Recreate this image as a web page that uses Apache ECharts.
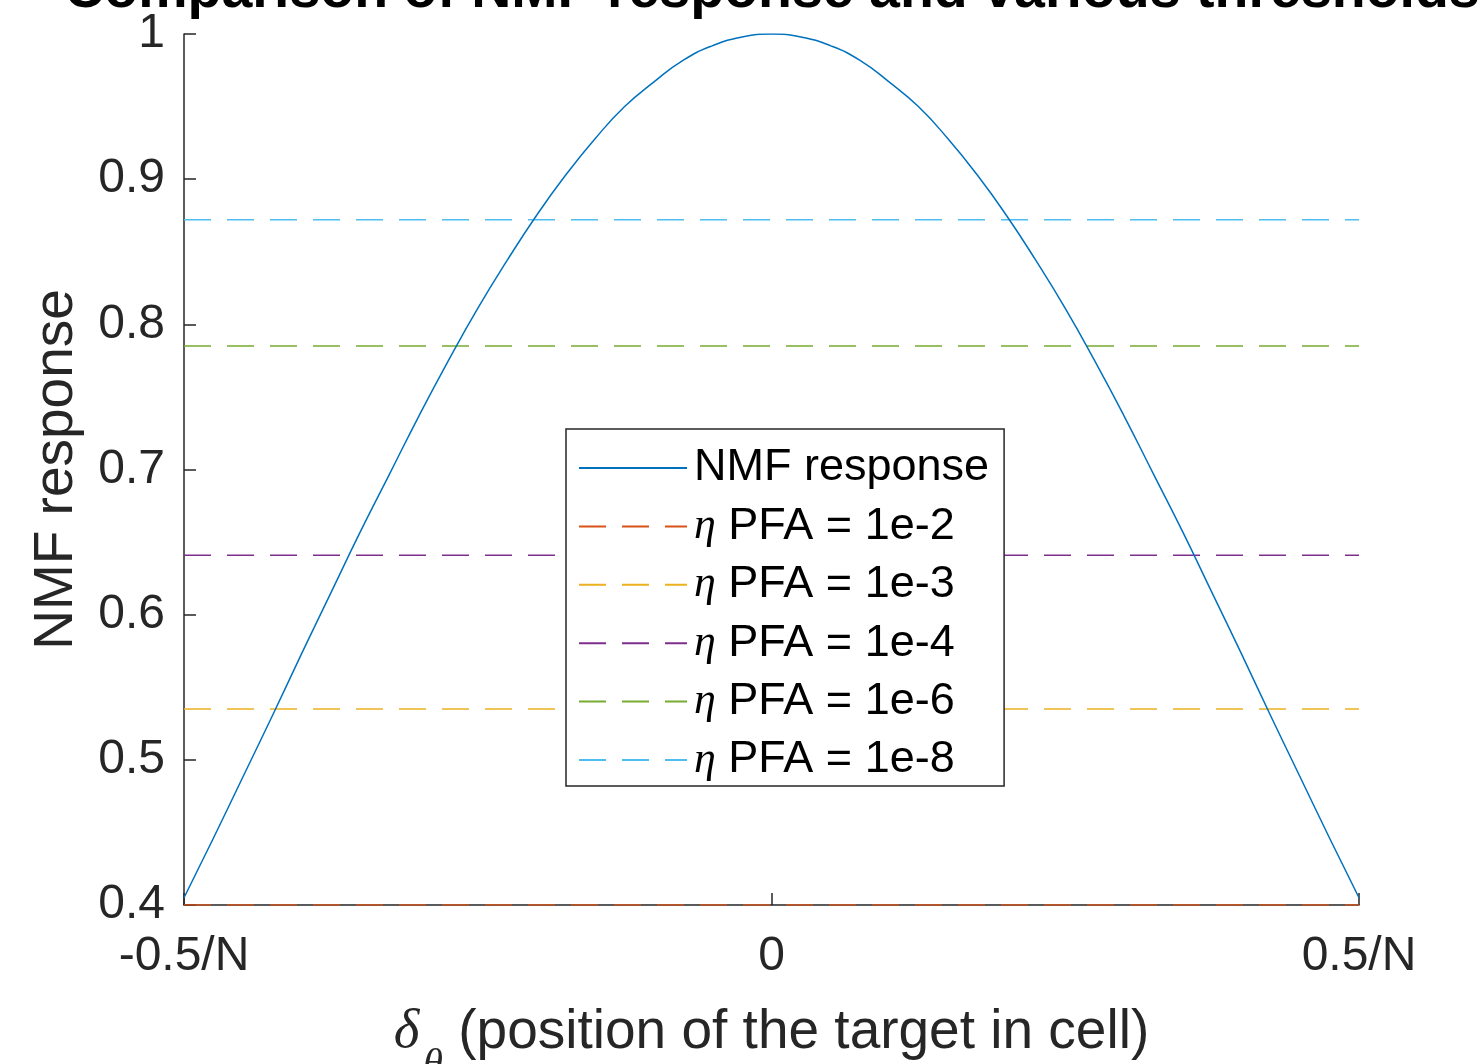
<!DOCTYPE html>
<html>
<head>
<meta charset="utf-8">
<script src="https://cdn.jsdelivr.net/npm/echarts@6/dist/echarts.min.js"></script>
<style>
  html, body { margin: 0; padding: 0; background: #fff; overflow: hidden; }
  #chart { width: 1481px; height: 1064px; }
</style>
</head>
<body>
<div id="chart"></div>
<script>
// Target position within the cell (in units of 1/N)
const positions = [-0.5, -0.475, -0.45, -0.425, -0.4, -0.375, -0.35, -0.325, -0.3, -0.275,
  -0.25, -0.225, -0.2, -0.175, -0.15, -0.125, -0.1, -0.075, -0.05, -0.025, 0,
  0.025, 0.05, 0.075, 0.1, 0.125, 0.15, 0.175, 0.2, 0.225, 0.25, 0.275, 0.3,
  0.325, 0.35, 0.375, 0.4, 0.425, 0.45, 0.475, 0.5];

// Normalised matched-filter response at each position
const nmfResponse = [0.405, 0.446, 0.488, 0.530, 0.573, 0.615, 0.657, 0.697, 0.737, 0.775,
  0.811, 0.844, 0.875, 0.903, 0.928, 0.950, 0.967, 0.982, 0.992, 0.998, 1.000,
  0.998, 0.992, 0.982, 0.967, 0.950, 0.928, 0.903, 0.875, 0.844, 0.811, 0.775, 0.737,
  0.697, 0.657, 0.615, 0.573, 0.530, 0.488, 0.446, 0.405];

// Detection thresholds for each false-alarm probability
const thresholdNames = ['η PFA = 1e-2', 'η PFA = 1e-3', 'η PFA = 1e-4', 'η PFA = 1e-6', 'η PFA = 1e-8'];
const thresholdValues = [0.400, 0.535, 0.641, 0.785, 0.872];
const thresholdColors = ['#D95319', '#EDB120', '#7E2F8E', '#77AC30', '#4DBEEE'];

// Axis tick labels
const xTickValues = [-0.5, 0, 0.5];
const xTickLabels = ['-0.5/N', '0', '0.5/N'];

const AXIS = '#262626';
const SANS = '"Liberation Sans", Arial, Helvetica, sans-serif';
const SERIF = '"Liberation Serif", "Times New Roman", serif';

const chart = echarts.init(document.getElementById('chart'), null, {
  renderer: 'canvas', width: 1481, height: 1064
});

const series = [{
  name: 'NMF response',
  type: 'line',
  data: positions.map((x, i) => [x, nmfResponse[i]]),
  smooth: 0.5,
  symbol: 'none',
  lineStyle: { color: '#0072BD', width: 1.5 },
  itemStyle: { color: '#0072BD' },
  z: 3
}];

thresholdNames.forEach((name, i) => {
  series.push({
    name: name,
    type: 'line',
    data: [[positions[0], thresholdValues[i]], [positions[positions.length - 1], thresholdValues[i]]],
    symbol: 'none',
    lineStyle: { color: thresholdColors[i], width: 1.5, type: [27, 16] },
    itemStyle: { color: thresholdColors[i] },
    z: 2
  });
});

chart.setOption({
  animation: false,
  backgroundColor: '#ffffff',
  title: {
    text: 'Comparison of NMF response and various thresholds',
    left: 772,
    textAlign: 'center',
    top: -36,
    padding: 0,
    textStyle: { fontFamily: SANS, fontWeight: 'bold', fontSize: 55.5, color: '#000000' }
  },
  grid: {
    left: 184, right: 122, top: 34, bottom: 159,
    containLabel: false,
    outerBoundsMode: 'none'
  },
  legend: {
    orient: 'vertical',
    left: 566,
    top: 429,
    padding: [14, 15, 1, 12],
    itemWidth: 108,
    itemHeight: 14,
    itemGap: 8.4,
    backgroundColor: '#ffffff',
    borderColor: '#262626',
    borderWidth: 1.5,
    borderRadius: 0,
    itemStyle: { opacity: 0 },
    data: ['NMF response'].concat(thresholdNames),
    formatter: name => name.replace('η', '{eta|η}'),
    textStyle: {
      fontFamily: SANS, fontSize: 45, color: '#000000', lineHeight: 50,
      padding: [0, 0, 0, 2],
      rich: {
        eta: { fontFamily: SERIF, fontStyle: 'italic', fontSize: 44, color: '#000000', lineHeight: 50 }
      }
    }
  },
  xAxis: {
    type: 'value',
    min: -0.5,
    max: 0.5,
    interval: 0.5,
    name: '{d|δ}{s|θ} (position of the target in cell)',
    nameLocation: 'middle',
    nameGap: 76,
    nameTextStyle: {
      fontFamily: SANS, fontSize: 55, color: AXIS,
      rich: {
        d: { fontFamily: SERIF, fontStyle: 'italic', fontSize: 55, color: AXIS },
        s: { fontFamily: SERIF, fontStyle: 'italic', fontSize: 40, color: AXIS, padding: [64, 0, 0, 4] }
      }
    },
    axisLine: { show: true, onZero: false, lineStyle: { color: AXIS, width: 1.5 } },
    axisTick: { show: true, inside: true, length: 12, lineStyle: { color: AXIS, width: 1.5 } },
    axisLabel: {
      margin: 28,
      fontFamily: SANS, fontSize: 48, color: AXIS, lineHeight: 48,
      formatter: v => {
        const idx = xTickValues.findIndex(t => Math.abs(t - v) < 1e-9);
        return idx >= 0 ? xTickLabels[idx] : '';
      }
    },
    splitLine: { show: false }
  },
  yAxis: {
    type: 'value',
    min: 0.4,
    max: 1,
    interval: 0.1,
    name: 'NMF response',
    nameLocation: 'middle',
    nameGap: 100,
    nameTextStyle: { fontFamily: SANS, fontSize: 55, color: AXIS },
    axisLine: { show: true, onZero: false, lineStyle: { color: AXIS, width: 1.5 } },
    axisTick: { show: true, inside: true, length: 12, lineStyle: { color: AXIS, width: 1.5 } },
    axisLabel: { margin: 19, fontFamily: SANS, fontSize: 48, color: AXIS },
    splitLine: { show: false }
  },
  series: series
});
</script>
</body>
</html>
